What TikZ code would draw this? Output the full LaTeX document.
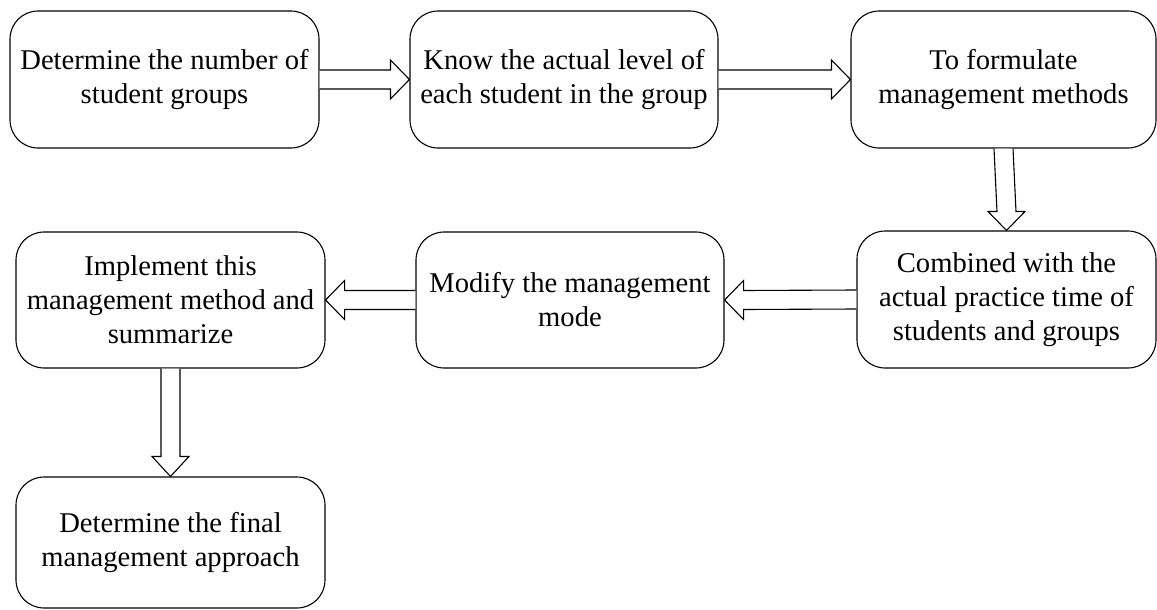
\documentclass[tikz,border=0pt]{standalone}
\usepackage{fontspec}
\setmainfont{Liberation Serif}
\usetikzlibrary{calc}
\tikzset{
  box/.style={draw=black, line width=1.1pt, rounded corners=28pt, align=center,
    inner sep=0pt, font=\fontsize{28.6}{34}\selectfont},
  barrow/.style={draw=black, line width=1.1pt, fill=white, line join=miter}
}
\begin{document}
\begin{tikzpicture}[x=1pt,y=1pt]
\useasboundingbox (0,0) rectangle (1157,-610);
\node[box, minimum width=309pt, minimum height=137pt] (b1) at (164.5,-79.5) {Determine the number of\\student groups};
\node[box, minimum width=308pt, minimum height=137pt] (b2) at (564,-79.5) {Know the actual level of\\each student in the group};
\node[box, minimum width=305pt, minimum height=137pt] (b3) at (1003.5,-79.5) {To formulate\\management methods};
\node[box, minimum width=299pt, minimum height=137pt] (b4) at (1006.5,-299.5) {Combined with the\\actual practice time of\\students and groups};
\node[box, minimum width=308pt, minimum height=136pt] (b5) at (570,-300) {Modify the management\\mode};
\node[box, minimum width=309pt, minimum height=136pt] (b6) at (170.5,-300) {Implement this\\management method and\\summarize};
\node[box, minimum width=309pt, minimum height=131pt] (b7) at (170.5,-542.5) {Determine the final\\management approach};

% right-pointing arrows
\draw[barrow] ($(b1.east)+(0,9.5)$) -- ($(b2.west)+(-19,9.5)$) -- ($(b2.west)+(-19,19.5)$) -- (b2.west)
  -- ($(b2.west)+(-19,-19.5)$) -- ($(b2.west)+(-19,-9.5)$) -- ($(b1.east)+(0,-9.5)$);
\draw[barrow] ($(b2.east)+(0,9.5)$) -- ($(b3.west)+(-19,9.5)$) -- ($(b3.west)+(-19,19.5)$) -- (b3.west)
  -- ($(b3.west)+(-19,-19.5)$) -- ($(b3.west)+(-19,-9.5)$) -- ($(b2.east)+(0,-9.5)$);
% down arrow b3 -> b4
\draw[barrow] ($(b3.south)+(-9.5,0)$) -- ($(b4.north)+(-9.5,19)$) -- ($(b4.north)+(-18.5,19)$) -- (b4.north)
  -- ($(b4.north)+(18.5,19)$) -- ($(b4.north)+(9.5,19)$) -- ($(b3.south)+(9.5,0)$);
% left-pointing arrows
\draw[barrow] ($(b4.west)+(0,9.5)$) -- ($(b5.east)+(19,9.5)$) -- ($(b5.east)+(19,19.5)$) -- (b5.east)
  -- ($(b5.east)+(19,-19.5)$) -- ($(b5.east)+(19,-9.5)$) -- ($(b4.west)+(0,-9.5)$);
\draw[barrow] ($(b5.west)+(0,9.5)$) -- ($(b6.east)+(19,9.5)$) -- ($(b6.east)+(19,19.5)$) -- (b6.east)
  -- ($(b6.east)+(19,-19.5)$) -- ($(b6.east)+(19,-9.5)$) -- ($(b5.west)+(0,-9.5)$);
% down arrow b6 -> b7
\draw[barrow] ($(b6.south)+(-9.5,0)$) -- ($(b7.north)+(-9.5,20)$) -- ($(b7.north)+(-18.5,20)$) -- (b7.north)
  -- ($(b7.north)+(18.5,20)$) -- ($(b7.north)+(9.5,20)$) -- ($(b6.south)+(9.5,0)$);
\end{tikzpicture}
\end{document}
